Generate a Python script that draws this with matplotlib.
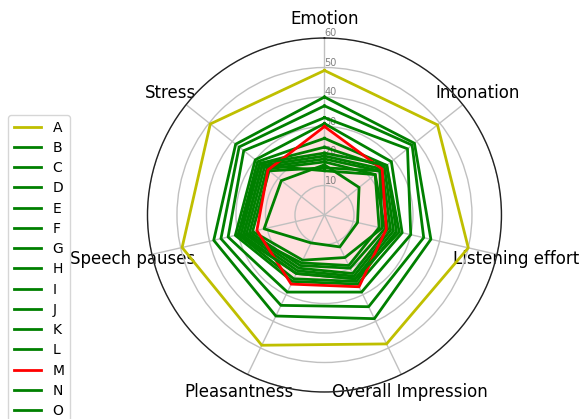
import numpy as np
import matplotlib
matplotlib.use("Agg")
import matplotlib.pyplot as plt

categories = ["Emotion", "Intonation", "Listening effort", "Overall Impression",
              "Pleasantness", "Speech pauses", "Stress"]
series_names = ["A", "B", "C", "D", "E", "F", "G", "H", "I", "J", "K", "L", "M", "N", "O"]
A = [49, 49, 50, 48.5, 49, 49.5, 49.5]
B = [40, 39, 37, 39, 38, 38.5, 38.5]
C = [37, 38, 34.5, 34.5, 34, 36, 37]
D = [33, 36, 30, 29, 29, 33.5, 35]
E = [31, 29, 27, 26, 25, 31, 30]
F = [26, 27, 25, 25, 24, 30, 29]
G = [23, 26, 24, 24, 22, 29, 28]
H = [20, 25, 23, 23, 21, 28, 27]
I = [19, 24, 22, 22, 20, 27, 26]
J = [18, 22, 21, 20, 19, 26, 25]
K = [16, 24, 20, 16, 17, 25, 24]
L = [15, 22, 19, 19, 18, 28, 27]
M = [30, 25, 21.5, 27, 26, 23.5, 24.5]
N = [17, 15, 11.5, 12, 10.5, 21, 18.7]
O = [21, 27, 26, 24, 22, 30, 28]
all_values = [A, B, C, D, E, F, G, H, I, J, K, L, M, N, O]
colors = ["y"] + ["g"] * 11 + ["r"] + ["g"] * 2
r_ticks = [10, 20, 30, 40, 50, 60]

fig = plt.figure(figsize=(5.79, 4.19), dpi=100)
ax = fig.add_axes([0.2547, 0.0644, 0.6114, 0.8449], polar=True)
ax.set_theta_offset(np.pi / 2)
ax.set_theta_direction(-1)

n = len(categories)
angles = np.linspace(0, 2 * np.pi, n, endpoint=False).tolist()
angles_closed = angles + angles[:1]

for name, vals, col in zip(series_names, all_values, colors):
    v = list(vals) + [vals[0]]
    ax.plot(angles_closed, v, color=col, linewidth=2, label=name)
    if name == "M":
        ax.fill(angles_closed, v, color="r", alpha=0.12)

ax.set_xticks(angles)
ax.set_xticklabels(categories, fontsize=12)
ax.set_rlabel_position(0)
ax.set_yticks(r_ticks)
ax.set_yticklabels([str(t) for t in r_ticks], color="grey", fontsize=7)
ax.set_ylim(0, 60)
ax.grid(color="#c0c0c0", linewidth=1)
ax.spines["polar"].set_color("#222222")
ax.spines["polar"].set_linewidth(1)

fig.legend(loc="upper left", bbox_to_anchor=(8 / 579, 1 - 115 / 419),
           bbox_transform=fig.transFigure, borderaxespad=0, fontsize=10,
           labelspacing=0.45)

fig.savefig("out.png", dpi=100)
